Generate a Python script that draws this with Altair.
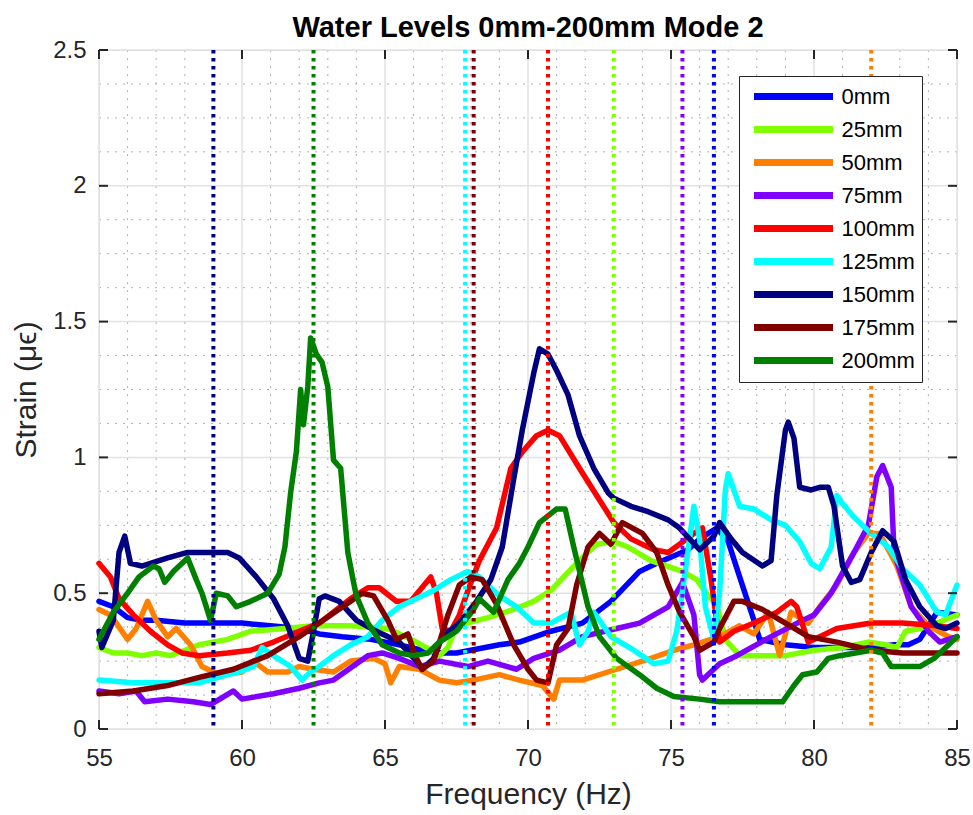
import altair as alt
import pandas as pd

# ---------------- data ----------------
series = ["0mm", "25mm", "50mm", "75mm", "100mm", "125mm", "150mm", "175mm", "200mm"]
colors = ["#0000FF", "#80FF00", "#FF8000", "#8000FF", "#FF0000", "#00FFFF", "#000080", "#800000", "#008000"]
peak_freq = [76.5, 73.0, 82.0, 75.4, 70.7, 67.8, 59.0, 68.1, 62.5]

x_0 = [55.0, 55.5, 56.0, 56.5, 57.0, 58.0, 59.0, 60.0, 61.0, 62.0, 62.7, 63.5, 64.5, 65.5, 66.3, 67.0, 67.5, 68.5, 69.0, 69.7, 70.8, 71.9, 72.9, 73.9, 74.5, 75.6, 76.0, 76.6, 77.0, 77.4, 77.9, 78.1, 79.0, 80.0, 81.0, 82.0, 82.8, 83.3, 83.7, 84.3, 85.0]
y_0 = [0.47, 0.45, 0.41, 0.40, 0.40, 0.39, 0.39, 0.39, 0.38, 0.37, 0.35, 0.34, 0.33, 0.31, 0.29, 0.28, 0.28, 0.30, 0.31, 0.32, 0.36, 0.39, 0.47, 0.58, 0.61, 0.66, 0.70, 0.74, 0.69, 0.56, 0.40, 0.33, 0.31, 0.30, 0.30, 0.30, 0.31, 0.31, 0.33, 0.43, 0.42]

x_25 = [55.0, 55.5, 56.0, 56.5, 57.0, 57.5, 58.0, 58.5, 59.5, 60.3, 61.5, 62.5, 63.8, 65.1, 66.1, 66.6, 66.9, 67.2, 67.5, 68.6, 69.5, 70.2, 70.8, 71.7, 72.4, 73.0, 73.5, 74.3, 75.4, 75.9, 76.3, 76.6, 76.9, 77.4, 78.0, 79.0, 80.0, 81.0, 81.9, 82.5, 82.9, 83.2, 83.7, 84.3, 85.0]
y_25 = [0.30, 0.28, 0.28, 0.27, 0.28, 0.27, 0.29, 0.31, 0.33, 0.36, 0.37, 0.38, 0.38, 0.37, 0.32, 0.29, 0.27, 0.30, 0.38, 0.41, 0.44, 0.47, 0.51, 0.61, 0.68, 0.69, 0.67, 0.62, 0.58, 0.55, 0.49, 0.46, 0.33, 0.27, 0.27, 0.27, 0.29, 0.30, 0.32, 0.31, 0.30, 0.36, 0.37, 0.39, 0.42]

x_50 = [55.0, 55.4, 56.0, 56.3, 56.7, 57.0, 57.4, 57.7, 58.2, 58.6, 59.2, 60.0, 60.4, 60.9, 61.6, 62.0, 62.5, 63.2, 63.8, 64.6, 65.0, 65.2, 65.5, 66.2, 66.9, 67.5, 68.1, 69.0, 69.7, 70.5, 70.9, 71.1, 71.9, 73.1, 74.3, 75.1, 75.8, 76.7, 77.4, 77.9, 78.4, 78.8, 79.2, 79.8, 80.2, 80.8, 81.4, 81.9, 82.3, 82.9, 83.4, 84.0, 84.7, 85.0]
y_50 = [0.44, 0.42, 0.33, 0.37, 0.47, 0.40, 0.34, 0.37, 0.31, 0.23, 0.20, 0.21, 0.25, 0.21, 0.21, 0.23, 0.22, 0.21, 0.25, 0.26, 0.24, 0.17, 0.23, 0.22, 0.18, 0.17, 0.18, 0.20, 0.18, 0.16, 0.11, 0.18, 0.18, 0.22, 0.26, 0.29, 0.31, 0.34, 0.38, 0.35, 0.43, 0.27, 0.43, 0.39, 0.45, 0.53, 0.65, 0.72, 0.72, 0.60, 0.45, 0.38, 0.34, 0.33]

x_75 = [55.0, 55.7, 56.3, 56.6, 57.4, 58.3, 58.9, 59.7, 60.0, 61.1, 62.0, 62.7, 63.2, 64.4, 64.9, 65.5, 66.2, 66.9, 67.9, 68.6, 69.6, 70.2, 71.1, 71.9, 73.1, 73.9, 74.9, 75.4, 75.8, 76.0, 76.1, 76.7, 77.3, 78.5, 79.6, 80.0, 80.6, 81.4, 81.9, 82.2, 82.4, 82.7, 82.8, 83.4, 84.0, 84.4, 85.0]
y_75 = [0.14, 0.13, 0.14, 0.10, 0.11, 0.10, 0.09, 0.14, 0.11, 0.13, 0.15, 0.17, 0.18, 0.27, 0.28, 0.26, 0.23, 0.25, 0.23, 0.25, 0.22, 0.26, 0.29, 0.34, 0.37, 0.39, 0.45, 0.54, 0.42, 0.20, 0.18, 0.24, 0.27, 0.34, 0.40, 0.42, 0.50, 0.65, 0.75, 0.93, 0.97, 0.89, 0.65, 0.45, 0.36, 0.32, 0.34]

x_100 = [55.0, 55.4, 55.7, 56.2, 56.8, 57.4, 57.9, 58.5, 59.5, 60.3, 61.1, 62.0, 62.7, 63.8, 64.4, 64.8, 65.4, 65.9, 66.6, 66.8, 67.0, 67.3, 67.6, 67.9, 68.3, 68.9, 69.4, 69.8, 70.3, 70.7, 71.1, 71.8, 72.4, 73.0, 73.6, 74.4, 74.9, 75.3, 75.8, 76.1, 76.4, 76.7, 77.2, 77.9, 78.7, 79.2, 79.4, 79.8, 80.2, 80.8, 82.0, 83.1, 84.3, 85.0]
y_100 = [0.61, 0.56, 0.48, 0.42, 0.36, 0.31, 0.28, 0.27, 0.28, 0.29, 0.32, 0.36, 0.39, 0.48, 0.52, 0.52, 0.47, 0.47, 0.56, 0.50, 0.37, 0.36, 0.42, 0.51, 0.62, 0.74, 0.96, 1.02, 1.08, 1.10, 1.08, 0.96, 0.86, 0.76, 0.70, 0.66, 0.65, 0.68, 0.72, 0.74, 0.55, 0.32, 0.36, 0.39, 0.43, 0.47, 0.45, 0.32, 0.34, 0.37, 0.39, 0.39, 0.38, 0.37]

x_125 = [55.0, 56.2, 57.4, 58.5, 59.5, 59.9, 60.4, 60.7, 61.1, 61.7, 62.1, 62.4, 62.7, 63.2, 63.8, 64.4, 64.9, 65.5, 66.1, 66.7, 67.3, 67.9, 68.3, 69.0, 69.6, 70.2, 70.8, 71.5, 71.8, 72.1, 72.3, 72.9, 73.7, 74.4, 74.9, 75.2, 75.5, 75.8, 76.0, 76.2, 76.5, 76.7, 76.9, 77.0, 77.2, 77.4, 77.9, 78.5, 79.0, 79.5, 79.9, 80.2, 80.6, 80.8, 81.0, 81.4, 82.0, 82.6, 83.1, 83.7, 84.3, 84.6, 85.0]
y_125 = [0.18, 0.17, 0.17, 0.17, 0.20, 0.21, 0.23, 0.30, 0.27, 0.23, 0.18, 0.21, 0.23, 0.27, 0.31, 0.34, 0.40, 0.45, 0.48, 0.51, 0.55, 0.58, 0.56, 0.49, 0.45, 0.39, 0.39, 0.43, 0.31, 0.36, 0.43, 0.34, 0.29, 0.24, 0.25, 0.36, 0.58, 0.82, 0.70, 0.45, 0.33, 0.50, 0.88, 0.94, 0.88, 0.82, 0.81, 0.77, 0.75, 0.69, 0.61, 0.59, 0.67, 0.86, 0.83, 0.78, 0.72, 0.67, 0.59, 0.53, 0.43, 0.42, 0.53]

x_150 = [55.0, 55.1, 55.5, 55.7, 55.9, 56.1, 56.5, 57.4, 58.1, 59.5, 59.9, 60.5, 61.1, 61.6, 62.0, 62.3, 62.5, 62.7, 62.9, 63.4, 64.0, 64.7, 65.5, 66.1, 66.3, 66.7, 67.0, 67.6, 68.2, 68.7, 69.1, 69.5, 69.8, 70.2, 70.4, 70.7, 71.0, 71.4, 71.8, 72.3, 72.8, 73.0, 73.6, 74.2, 74.9, 75.3, 76.0, 76.5, 76.7, 77.1, 77.5, 78.2, 78.5, 78.7, 79.0, 79.1, 79.3, 79.5, 79.9, 80.2, 80.5, 80.7, 81.0, 81.3, 81.6, 82.0, 82.4, 82.8, 83.2, 83.7, 84.3, 84.6, 85.0]
y_150 = [0.36, 0.30, 0.40, 0.65, 0.71, 0.61, 0.60, 0.63, 0.65, 0.65, 0.63, 0.56, 0.48, 0.38, 0.26, 0.25, 0.36, 0.48, 0.49, 0.47, 0.40, 0.36, 0.32, 0.25, 0.22, 0.26, 0.34, 0.39, 0.47, 0.55, 0.67, 0.92, 1.10, 1.31, 1.40, 1.38, 1.32, 1.23, 1.08, 0.96, 0.87, 0.85, 0.82, 0.80, 0.77, 0.74, 0.66, 0.71, 0.76, 0.70, 0.65, 0.60, 0.62, 0.86, 1.10, 1.13, 1.07, 0.89, 0.88, 0.89, 0.89, 0.82, 0.60, 0.54, 0.55, 0.65, 0.73, 0.69, 0.55, 0.45, 0.38, 0.37, 0.39]

x_175 = [55.0, 56.2, 57.4, 58.5, 59.7, 60.9, 62.0, 62.7, 63.8, 64.2, 64.6, 65.1, 65.4, 65.8, 66.1, 66.3, 66.7, 67.2, 67.6, 68.0, 68.4, 68.9, 69.5, 70.0, 70.3, 70.7, 71.0, 71.4, 71.7, 72.1, 72.5, 72.9, 73.3, 74.0, 74.5, 74.9, 75.3, 75.8, 76.0, 76.5, 76.7, 77.2, 77.5, 78.2, 79.0, 79.8, 80.8, 82.0, 83.1, 85.0]
y_175 = [0.13, 0.14, 0.16, 0.19, 0.22, 0.27, 0.34, 0.39, 0.47, 0.50, 0.49, 0.40, 0.33, 0.35, 0.26, 0.22, 0.25, 0.42, 0.53, 0.56, 0.55, 0.46, 0.31, 0.22, 0.18, 0.17, 0.31, 0.37, 0.53, 0.67, 0.72, 0.68, 0.76, 0.72, 0.65, 0.53, 0.43, 0.34, 0.29, 0.32, 0.37, 0.47, 0.47, 0.44, 0.39, 0.34, 0.32, 0.29, 0.28, 0.28]

x_200 = [55.0, 55.5, 56.0, 56.4, 56.9, 57.1, 57.3, 57.6, 58.1, 58.4, 58.6, 58.9, 59.1, 59.5, 59.8, 60.3, 60.9, 61.3, 61.5, 61.7, 61.9, 62.05, 62.15, 62.3, 62.4, 62.6, 62.8, 63.0, 63.2, 63.45, 63.7, 63.9, 64.0, 64.4, 64.9, 65.5, 66.0, 66.5, 66.9, 67.5, 68.1, 68.3, 68.8, 69.3, 69.7, 70.0, 70.4, 71.0, 71.3, 71.6, 72.1, 72.5, 73.1, 73.9, 74.5, 75.1, 76.0, 76.7, 77.9, 78.9, 79.3, 79.6, 80.1, 80.5, 80.9, 82.0, 82.4, 82.7, 83.7, 84.2, 85.0]
y_200 = [0.33, 0.43, 0.50, 0.56, 0.60, 0.59, 0.54, 0.58, 0.63, 0.55, 0.50, 0.40, 0.50, 0.49, 0.45, 0.47, 0.50, 0.57, 0.67, 0.87, 1.02, 1.25, 1.12, 1.26, 1.44, 1.38, 1.35, 1.26, 0.99, 0.96, 0.65, 0.54, 0.49, 0.39, 0.31, 0.28, 0.27, 0.28, 0.32, 0.36, 0.44, 0.48, 0.43, 0.55, 0.61, 0.67, 0.76, 0.81, 0.81, 0.67, 0.45, 0.34, 0.26, 0.20, 0.15, 0.12, 0.11, 0.10, 0.10, 0.10, 0.16, 0.20, 0.21, 0.26, 0.27, 0.29, 0.28, 0.23, 0.23, 0.26, 0.34]

x_ticks = [55, 60, 65, 70, 75, 80, 85]
y_ticks = [0, 0.5, 1, 1.5, 2, 2.5]
x_minor = [56, 57, 58, 59, 61, 62, 63, 64, 66, 67, 68, 69, 71, 72, 73, 74, 76, 77, 78, 79, 81, 82, 83, 84]
y_minor = [0.125, 0.25, 0.375, 0.625, 0.75, 0.875, 1.125, 1.25, 1.375, 1.625, 1.75, 1.875, 2.125, 2.25, 2.375]

# ---------------- tables ----------------
xs = [x_0, x_25, x_50, x_75, x_100, x_125, x_150, x_175, x_200]
ys = [y_0, y_25, y_50, y_75, y_100, y_125, y_150, y_175, y_200]
rows = []
for s, xv, yv in zip(series, xs, ys):
    for i, (a, b) in enumerate(zip(xv, yv)):
        rows.append({"series": s, "freq": a, "strain": b, "idx": i})
df = pd.DataFrame(rows)
peaks = pd.DataFrame({"series": series, "freq": peak_freq})
xt = pd.DataFrame({"v": x_ticks})
yt = pd.DataFrame({"v": y_ticks})
xm = pd.DataFrame({"v": x_minor})
ym = pd.DataFrame({"v": y_minor})

W, H = 858, 679
FONT = "Liberation Sans"
AX = "#262626"

xscale = alt.Scale(domain=[55, 85], nice=False, zero=False)
yscale = alt.Scale(domain=[0, 2.5], nice=False, zero=True)
cscale = alt.Scale(domain=series, range=colors)

xaxis = alt.Axis(values=x_ticks, grid=False, ticks=False, tickSize=0, domain=False, labelFlush=False,
                 labelFontSize=24, labelColor=AX, labelFont=FONT, labelPadding=17,
                 title="Frequency (Hz)", titleFontSize=30, titleFont=FONT,
                 titleFontWeight="normal", titleColor=AX, titlePadding=9)
yaxis = alt.Axis(values=y_ticks, grid=False, ticks=False, tickSize=0, domain=False, labelFlush=False,
                 format="~g", labelFontSize=24, labelColor=AX, labelFont=FONT, labelPadding=13,
                 title="Strain (μϵ)", titleFontSize=30, titleFont=FONT,
                 titleFontWeight="normal", titleColor=AX, titlePadding=11)

minor_x = alt.Chart(xm).mark_rule(color="#b0b0b0", strokeWidth=1, strokeDash=[2, 6]).encode(
    x=alt.X("v:Q", scale=xscale, axis=xaxis))
minor_y = alt.Chart(ym).mark_rule(color="#b0b0b0", strokeWidth=1, strokeDash=[2, 6]).encode(
    y=alt.Y("v:Q", scale=yscale, axis=yaxis))
major_x = alt.Chart(xt).mark_rule(color="#e2e2e2", strokeWidth=1.5).encode(x=alt.X("v:Q", scale=xscale))
major_y = alt.Chart(yt).mark_rule(color="#e2e2e2", strokeWidth=1.5).encode(y=alt.Y("v:Q", scale=yscale))

lines = alt.Chart(df).mark_line(strokeWidth=5.5, strokeJoin="round", strokeCap="round").encode(
    x=alt.X("freq:Q", scale=xscale, axis=xaxis),
    y=alt.Y("strain:Q", scale=yscale, axis=yaxis),
    color=alt.Color("series:N", scale=cscale, sort=series,
                    legend=alt.Legend(title=None, orient="none", legendX=640, legendY=26,
                                      symbolType="M-3.95,0H3.95", symbolSize=400, symbolStrokeWidth=7,
                                      symbolOffset=34,
                                      labelFontSize=22, labelFont=FONT, labelColor="#000000",
                                      labelOffset=34.5, padding=7, rowPadding=4,
                                      fillColor="#ffffff", strokeColor=AX)),
    order=alt.Order("idx:Q"),
)

vlines = alt.Chart(peaks).mark_rule(strokeWidth=4, strokeDash=[3.5, 4.5]).encode(
    x=alt.X("freq:Q", scale=xscale),
    color=alt.Color("series:N", scale=cscale, legend=None),
)

tk_b = alt.Chart(xt).mark_rule(color=AX, strokeWidth=2).encode(
    x=alt.X("v:Q", scale=xscale), y=alt.value(H), y2=alt.value(H - 9))
tk_t = alt.Chart(xt).mark_rule(color=AX, strokeWidth=2).encode(
    x=alt.X("v:Q", scale=xscale), y=alt.value(0), y2=alt.value(9))
tk_l = alt.Chart(yt).mark_rule(color=AX, strokeWidth=2).encode(
    y=alt.Y("v:Q", scale=yscale), x=alt.value(0), x2=alt.value(9))
tk_r = alt.Chart(yt).mark_rule(color=AX, strokeWidth=2).encode(
    y=alt.Y("v:Q", scale=yscale), x=alt.value(W), x2=alt.value(W - 9))

chart = alt.layer(minor_x, minor_y, major_x, major_y, lines, vlines, tk_b, tk_t, tk_l, tk_r).properties(
    width=W, height=H,
    autosize=alt.AutoSizeParams(type="none"),
    padding={"left": 99, "top": 50, "right": 16, "bottom": 86},
    title=alt.TitleParams("Water Levels 0mm-200mm Mode 2", fontSize=29, fontWeight="bold",
                          font=FONT, color="#000000", anchor="middle", offset=0, dy=5),
).configure_view(stroke=AX, strokeWidth=2).configure(background="white")

chart.save("out.html", embed_options={"renderer": "svg", "actions": False})
